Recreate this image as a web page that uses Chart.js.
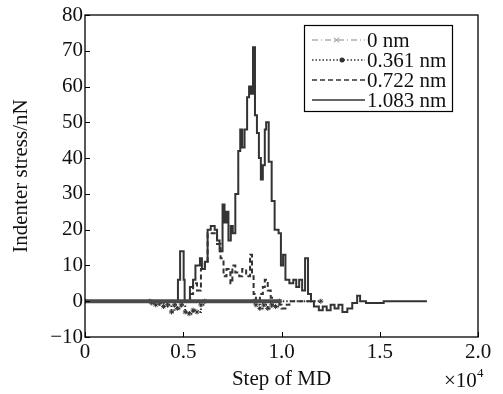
<!DOCTYPE html>
<html>
<head>
<meta charset="utf-8">
<script src="https://cdn.jsdelivr.net/npm/chart.js@4/dist/chart.umd.min.js"></script>
<style>
  html,body{margin:0;padding:0;background:#fff;}
  #wrap{width:503px;height:394px;}
</style>
</head>
<body>
<div id="wrap"><canvas id="c" width="503" height="394"></canvas></div>
<script>
// Data (step in units of 1e4, stress in nN)
const labels = ['0 nm', '0.361 nm', '0.722 nm', '1.083 nm'];

const steps0  = [0, 0.05, 0.1, 0.15, 0.2, 0.25, 0.3, 0.35, 0.4, 0.45, 0.5, 0.55, 0.6, 0.65, 0.7, 0.75, 0.8, 0.85, 0.9, 0.95, 1.0];
const stress0 = [0, 0, 0, 0, 0, 0, 0, 0, 0, 0, 0, 0, 0, 0, 0, 0, 0, 0, 0, 0, 0];

const steps1  = [0, 0.33, 0.34, 0.36, 0.38, 0.40, 0.42, 0.44, 0.455, 0.47, 0.49, 0.51, 0.53, 0.55, 0.57, 0.59, 0.61, 0.86, 0.87, 0.89, 0.91, 0.93, 0.95, 0.97, 0.99, 1.2];
const stress1 = [0, 0, -0.5, -1, -0.5, -1.5, -1, -3, -1, -2, -1, -3, -3.5, -2.5, -3, -1, 0, 0, -1, -2, -1, -2, -1, -1.5, 0, 0];

const steps2  = [0, 0.52, 0.535, 0.55, 0.57, 0.59, 0.61, 0.624, 0.672, 0.69, 0.705, 0.72, 0.74, 0.75, 0.765, 0.785, 0.8, 0.82, 0.84, 0.85, 0.858, 0.87, 0.89, 0.905, 0.915, 0.93, 0.945, 0.96, 0.99, 1.0, 1.02, 1.04, 1.16];
const stress2 = [0, 0, 2, 5, 3, 9, 11, 19, 16, 12, 7, 9, 5, 10, 8, 7, 9, 7, 13, 7, 2, 0, 2, 4, 6, 3, 1, 0, -1, -2, -1, 0, 0];

const steps3  = [0, 0.47, 0.473, 0.484, 0.502, 0.507, 0.534, 0.55, 0.562, 0.585, 0.595, 0.61, 0.624, 0.64, 0.66, 0.672, 0.685, 0.70, 0.71, 0.72, 0.73, 0.742, 0.752, 0.765, 0.78, 0.79, 0.80, 0.812, 0.825, 0.835, 0.845, 0.855, 0.865, 0.875, 0.885, 0.895, 0.905, 0.915, 0.922, 0.935, 0.95, 0.965, 0.985, 0.997, 1.008, 1.02, 1.04, 1.06, 1.075, 1.09, 1.105, 1.12, 1.135, 1.15, 1.165, 1.19, 1.21, 1.23, 1.25, 1.27, 1.29, 1.31, 1.335, 1.36, 1.385, 1.40, 1.43, 1.52, 1.74];
const stress3 = [0, 0, 6, 14, 6, 0, 4, 6, 10, 12, 9, 11, 20, 21, 20, 17, 14, 27, 22, 25, 17, 21, 19, 30, 42, 48, 43, 48, 57, 60, 58, 71, 52, 47, 40, 34, 38, 48, 50, 39, 28, 20, 19, 10, 13, 6, 5, 6, 4, 6, 3, 12, 2, 0, -1.5, -2.5, -1.5, -2.5, -1, -2, -1, -3, -2, -0.5, 1.5, 0, -0.5, 0, 0];

const xTicks = [0, 0.5, 1.0, 1.5, 2.0];
const yTicks = [-10, 0, 10, 20, 30, 40, 50, 60, 70, 80];

const pts = (xs, ys) => xs.map((x, i) => ({x: x, y: ys[i]}));
const FONT = '"Liberation Serif", "Times New Roman", serif';

// line looks: chart line + legend sample
const styles = [
  {color:'#4a4a4a', width:4, dash:[], point:'crossRot', radius:0, legColor:'#888', legDash:[6,3,1,3]},
  {color:'#333', width:2, dash:[1.5,2], point:'star', radius:2.5, legColor:'#333', legDash:[1.5,2]},
  {color:'#333', width:2, dash:[5,3], point:false, radius:0, legColor:'#333', legDash:[5,3]},
  {color:'#333', width:2, dash:[], point:false, radius:0, legColor:'#333', legDash:[]}
];

const series = [pts(steps0, stress0), pts(steps1, stress1), pts(steps2, stress2), pts(steps3, stress3)];

const datasets = series.map((d, i) => ({
  label: labels[i], data: d,
  borderColor: styles[i].color, backgroundColor: styles[i].color,
  borderWidth: styles[i].width, borderDash: styles[i].dash,
  pointStyle: styles[i].point || 'circle', pointRadius: styles[i].radius,
  pointBorderWidth: 1, stepped: true, fill: false
}));

// box, inward ticks, legend, x10^4
const extras = {
  id: 'extras',
  afterDraw(chart) {
    const ctx = chart.ctx, a = chart.chartArea;
    const xs = chart.scales.x, ys = chart.scales.y;
    ctx.save();
    ctx.strokeStyle = '#000'; ctx.lineWidth = 1.3; ctx.setLineDash([]);
    ctx.strokeRect(a.left, a.top, a.right - a.left, a.bottom - a.top);
    ctx.lineWidth = 1;
    xTicks.forEach(v => {
      const px = Math.round(xs.getPixelForValue(v)) + 0.5;
      ctx.beginPath(); ctx.moveTo(px, a.bottom); ctx.lineTo(px, a.bottom - 5); ctx.stroke();
    });
    yTicks.forEach(v => {
      const py = Math.round(ys.getPixelForValue(v)) + 0.5;
      ctx.beginPath(); ctx.moveTo(a.left, py); ctx.lineTo(a.left + 5, py); ctx.stroke();
    });

    // legend box
    const L = 304, T = 25, W = 148, H = 86;
    ctx.fillStyle = '#fff'; ctx.fillRect(L, T, W, H);
    ctx.strokeStyle = '#000'; ctx.lineWidth = 1.2; ctx.strokeRect(L + 0.5, T + 0.5, W, H);
    ctx.font = '21px ' + FONT; ctx.textBaseline = 'middle'; ctx.textAlign = 'left';
    labels.forEach((lab, i) => {
      const y = T + 15 + i * 20, s = styles[i];
      ctx.strokeStyle = s.legColor; ctx.lineWidth = i === 0 ? 1.2 : 1.5; ctx.setLineDash(s.legDash);
      ctx.beginPath(); ctx.moveTo(312, y); ctx.lineTo(365, y); ctx.stroke();
      ctx.setLineDash([]);
      if (i === 0) {
        ctx.strokeStyle = '#888'; ctx.lineWidth = 1;
        ctx.beginPath(); ctx.moveTo(334, y - 2.5); ctx.lineTo(339, y + 2.5); ctx.moveTo(339, y - 2.5); ctx.lineTo(334, y + 2.5); ctx.stroke();
      } else if (i === 1) {
        ctx.fillStyle = '#333'; ctx.beginPath(); ctx.arc(342, y, 2.5, 0, Math.PI * 2); ctx.fill();
      }
      ctx.fillStyle = '#111'; ctx.fillText(lab, 367, y + 1);
    });

    // exponent label
    ctx.fillStyle = '#111'; ctx.textBaseline = 'alphabetic';
    ctx.font = '21px ' + FONT; ctx.fillText('\u00d710', 444, 387);
    ctx.font = '13px ' + FONT; ctx.fillText('4', 477, 377);
    ctx.restore();
  }
};

new Chart(document.getElementById('c'), {
  type: 'line',
  data: {datasets: datasets},
  options: {
    responsive: false, animation: false, devicePixelRatio: 1,
    layout: {padding: {top: 15, right: 25, left: 0, bottom: 0}},
    plugins: {legend: {display: false}, tooltip: {enabled: false}},
    scales: {
      x: {
        type: 'linear', min: 0, max: 2.0,
        afterFit: s => { s.height = 57; },
        afterBuildTicks: s => { s.ticks = xTicks.map(v => ({value: v})); },
        grid: {display: false, drawTicks: false}, border: {display: false},
        ticks: {color: '#111', padding: 3, font: {family: FONT, size: 21},
                callback: v => v === 0 ? '0' : v.toFixed(1)},
        title: {display: true, text: 'Step of MD', color: '#111', font: {family: FONT, size: 21}, padding: {top: 0, bottom: 2}}
      },
      y: {
        type: 'linear', min: -10, max: 80,
        afterFit: s => { s.width = 85; },
        afterBuildTicks: s => { s.ticks = yTicks.map(v => ({value: v})); },
        grid: {display: false, drawTicks: false}, border: {display: false},
        ticks: {color: '#111', padding: 2, font: {family: FONT, size: 21},
                callback: v => String(v).replace('-', '\u2212')},
        title: {display: true, text: 'Indenter stress/nN', color: '#111', font: {family: FONT, size: 21}, padding: {top: 9, bottom: 0}}
      }
    }
  },
  plugins: [extras]
});
</script>
</body>
</html>
